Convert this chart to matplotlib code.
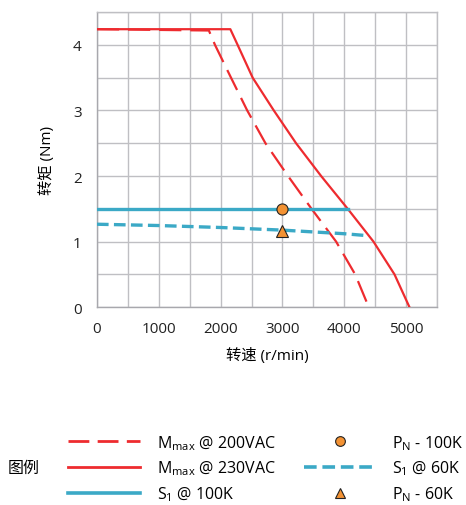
import matplotlib
matplotlib.use("Agg")
import matplotlib.pyplot as plt
from matplotlib.lines import Line2D

plt.rcParams['font.family'] = ['Open Sans', 'Noto Sans CJK SC', 'DejaVu Sans']
plt.rcParams['mathtext.default'] = 'regular'

# Data
m230_speed = [0, 2157, 2275, 2518, 2860, 3220, 3625, 4055, 4471, 4811, 5053]
m230_torque = [4.24, 4.24, 4.0, 3.5, 3.0, 2.5, 2.0, 1.5, 1.0, 0.5, 0.0]
m200_speed = [0, 1810, 1909, 2168, 2430, 2725, 3090, 3470, 3867, 4175, 4395]
m200_torque = [4.24, 4.22, 4.0, 3.5, 3.0, 2.5, 2.0, 1.5, 1.0, 0.5, 0.0]
s1_100k_speed = [0, 4055]
s1_100k_torque = [1.5, 1.5]
s1_60k_speed = [0, 1000, 2000, 3000, 4000, 4380]
s1_60k_torque = [1.265, 1.245, 1.215, 1.175, 1.12, 1.09]
pn_100k = (3000, 1.5)
pn_60k = (3000, 1.16)

xticks = [0, 1000, 2000, 3000, 4000, 5000]
yticks = [0, 1, 2, 3, 4]

RED = '#ee2b2f'
BLUE = '#3ba9c6'
ORANGE = '#f39233'

fig = plt.figure(figsize=(4.66, 5.06), dpi=100)
ax = fig.add_axes([0.208, 0.391, 0.730, 0.583])

ax.plot(m200_speed, m200_torque, color=RED, lw=1.6, dashes=(10, 4), zorder=3)
ax.plot(m230_speed, m230_torque, color=RED, lw=1.6, zorder=3)
ax.plot(s1_100k_speed, s1_100k_torque, color=BLUE, lw=2.4, zorder=3)
ax.plot(s1_60k_speed, s1_60k_torque, color=BLUE, lw=2.4, dashes=(3.5, 1.6), zorder=3)
ax.plot([pn_100k[0]], [pn_100k[1]], 'o', color=ORANGE, mec='#222222', mew=0.8, ms=8, zorder=4)
ax.plot([pn_60k[0]], [pn_60k[1]], '^', color=ORANGE, mec='#222222', mew=0.8, ms=8, zorder=4)

ax.set_xlim(0, 5500)
ax.set_ylim(0, 4.5)
ax.set_xticks(xticks)
ax.set_yticks(yticks)
ax.set_xticks(range(0, 5501, 500), minor=True)
ax.set_yticks([i * 0.5 for i in range(10)], minor=True)
ax.grid(True, which='both', color='#bfbfc3', lw=1.0)
ax.set_axisbelow(True)
ax.tick_params(which='both', length=0, labelsize=11, colors='#222222')
ax.tick_params(axis='x', pad=10)
ax.tick_params(axis='y', pad=11)
for s in ax.spines.values():
    s.set_color('#bfbfc3')
    s.set_linewidth(1.0)
ax.spines['bottom'].set_color('#a8a8ad')
ax.spines['left'].set_color('#a8a8ad')

ax.set_xlabel('转速 (r/min)', fontsize=11, labelpad=8)
ax.set_ylabel('转矩 (Nm)', fontsize=11, labelpad=13)

handles = [
    Line2D([], [], color=RED, lw=2.0, dashes=(7.5, 3)),
    Line2D([], [], color=RED, lw=2.0),
    Line2D([], [], color=BLUE, lw=2.6),
    Line2D([], [], ls='none', marker='o', color=ORANGE, mec='#222222', mew=0.8, ms=7),
    Line2D([], [], color=BLUE, lw=2.6, dashes=(3.5, 1.6)),
    Line2D([], [], ls='none', marker='^', color=ORANGE, mec='#222222', mew=0.8, ms=7),
]
labels = [
    'M$_{max}$ @ 200VAC',
    'M$_{max}$ @ 230VAC',
    'S$_{1}$ @ 100K',
    'P$_{N}$ - 100K',
    'S$_{1}$ @ 60K',
    'P$_{N}$ - 60K',
]
fig.legend(handles, labels, ncol=2, loc='center left',
           bbox_to_anchor=(0.146, 0.073), frameon=False, fontsize=11.5,
           handlelength=4.5, handletextpad=1.06, columnspacing=1.75,
           labelspacing=0.45, borderpad=0, borderaxespad=0)
fig.text(0.017, 0.073, '图例', fontsize=11.5, va='center', ha='left')

fig.savefig('out.png', dpi=100)
